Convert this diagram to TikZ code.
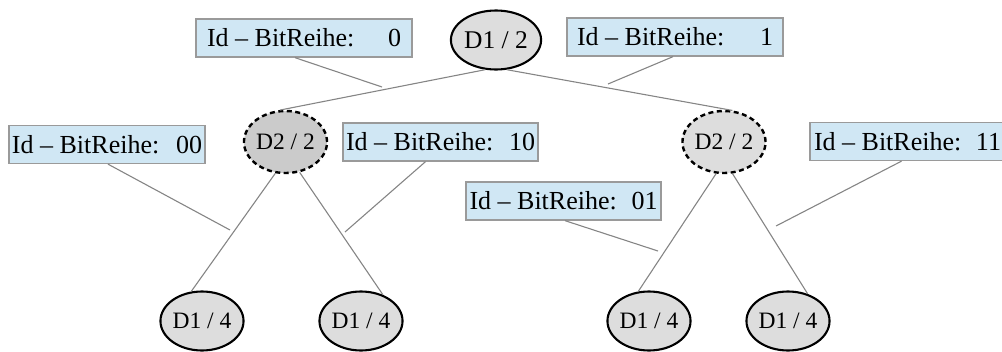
\documentclass[tikz,border=0pt]{standalone}
\usepackage{fontspec}
\setmainfont{Liberation Serif}
\usetikzlibrary{shapes.geometric}

\definecolor{boxfill}{HTML}{D0E7F4}
\definecolor{boxline}{HTML}{9A9A9A}
\definecolor{edgegray}{HTML}{858585}
\definecolor{nodefill}{HTML}{DDDDDD}
\definecolor{nodefilldark}{HTML}{CBCBCB}

% label text of an id box: caption on the left, bit string flush right
\newcommand{\bitrow}[2]{\hbox to #1pt{Id – BitReihe:\hfill #2}}

\begin{document}
\begin{tikzpicture}[x=1pt,y=-1pt,
  disk/.style={ellipse, draw=black, line width=2.1pt, fill=nodefill,
    minimum width=68pt, minimum height=59pt, inner sep=0pt,
    font=\fontsize{23.5}{26}\selectfont},
  splitdisk/.style={disk, dash pattern=on 5pt off 3.5pt, line width=2.4pt,
    minimum width=67pt, minimum height=62pt},
  idbox/.style={rectangle, draw=boxline, line width=1.3pt, fill=boxfill,
    inner xsep=0pt, inner ysep=0pt, minimum height=38pt,
    font=\fontsize{26}{30}\selectfont},
  edge/.style={draw=edgegray, line width=1.1pt},
]
\useasboundingbox (0,0) rectangle (1002,351);

% tree nodes
\node[disk, font=\fontsize{25.5}{28}\selectfont, minimum width=69pt, minimum height=59pt] (root) at (496,40) {D1 / 2};
\node[splitdisk, fill=nodefilldark] (d2l) at (285.5,142) {D2 / 2};
\node[splitdisk] (d2r) at (724,142) {D2 / 2};
\node[disk] (c1) at (202,321) {D1 / 4};
\node[disk] (c2) at (361,321) {D1 / 4};
\node[disk] (c3) at (649,321) {D1 / 4};
\node[disk] (c4) at (788,321) {D1 / 4};

% tree edges
\draw[edge] (root.250) -- (d2l.100);
\draw[edge] (root.290) -- (d2r.75);
\draw[edge] (d2l.252) -- (c1.110);
\draw[edge] (d2l.295) -- (c2.50);
\draw[edge] (d2r.256) -- (c3.110);
\draw[edge] (d2r.285) -- (c4.54);

% id boxes
\node[idbox, minimum width=216pt] (b0)  at (304,38)    {\bitrow{194}{0}};
\node[idbox, minimum width=216pt] (b1)  at (675,37)    {\bitrow{196}{1}};
\node[idbox, minimum width=196pt] (b00) at (107,144.5) {\bitrow{190}{00}};
\node[idbox, minimum width=195pt] (b10) at (440.5,142) {\bitrow{189}{10}};
\node[idbox, minimum width=195pt] (b01) at (563.5,201) {\bitrow{188}{01}};
\node[idbox, minimum width=195pt] (b11) at (907.5,141.5) {\bitrow{187}{11}};

% free ends of the box pointers, resting on the tree edges
\coordinate (p0)  at (382,87);
\coordinate (p1)  at (608,84);
\coordinate (p00) at (230,230);
\coordinate (p10) at (345,232);
\coordinate (p01) at (658,251);
\coordinate (p11) at (776,226);

\draw[edge] ([xshift=-9pt]b0.south) -- (p0);
\draw[edge] ([xshift=-2pt]b1.south) -- (p1);
\draw[edge] ([xshift=1pt]b00.south) -- (p00);
\draw[edge] ([xshift=-15pt]b10.south) -- (p10);
\draw[edge] ([xshift=1.5pt]b01.south) -- (p01);
\draw[edge] ([xshift=-6pt]b11.south) -- (p11);
\end{tikzpicture}
\end{document}
